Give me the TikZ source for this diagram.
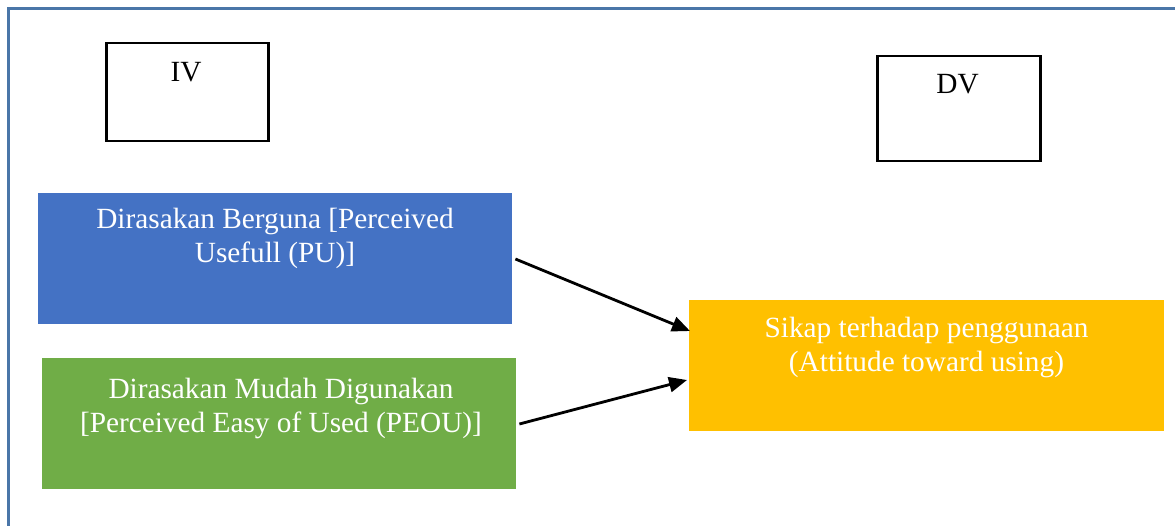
\documentclass[tikz,border=0pt]{standalone}
\usepackage{fontspec}
\setmainfont{Liberation Serif}
\usetikzlibrary{arrows.meta,calc}
\definecolor{framec}{HTML}{4A76A8}
\definecolor{pucol}{HTML}{4472C4}
\definecolor{peoucol}{HTML}{70AD47}
\definecolor{attcol}{HTML}{FFC000}
\tikzset{
  labelbox/.style={draw=black, line width=2.5pt, anchor=north west, inner sep=0pt},
  varbox/.style={anchor=north west, inner sep=0pt, minimum width=475pt, minimum height=131pt},
  boxtext/.style={anchor=base, align=center, inner sep=0pt,
    font=\fontsize{29.3}{34}\selectfont},
  whitetext/.style={boxtext, text=white},
  arr/.style={line width=2.8pt, -{Triangle[length=18pt,width=15pt]}}
}
\begin{document}
\begin{tikzpicture}[x=1pt,y=-1pt]
  \useasboundingbox (0,0) rectangle (1175,526);
  % page frame (top and left edges)
  \draw[framec, line width=3pt] (8.5,526) -- (8.5,8.5) -- (1175,8.5);

  % variable-type labels
  \node[labelbox, minimum width=162pt, minimum height=98pt] (iv) at (105,42) {};
  \node[boxtext] (ivtext) at (186,82) {IV};
  \node[labelbox, minimum width=163pt, minimum height=105pt] (dv) at (876,55) {};
  \node[boxtext] (dvtext) at (957.5,94) {DV};

  % constructs (base anchor sits on the last text line)
  \node[varbox, fill=pucol, minimum width=474pt] (pu) at (38,193) {};
  \node[whitetext] (putext) at (275,263) {Dirasakan Berguna [Perceived\\Usefull (PU)]};
  \node[varbox, fill=peoucol, minimum width=474pt] (peou) at (42,358) {};
  \node[whitetext] (peoutext) at (281,432) {Dirasakan Mudah Digunakan\\{}[Perceived Easy of Used (PEOU)]};
  \node[varbox, fill=attcol] (att) at (689,300) {};
  \node[whitetext] (atttext) at (926.5,372) {Sikap terhadap penggunaan\\(Attitude toward using)};

  % influence arrows
  \coordinate (puout) at ($(pu.north east)+(3,66)$);
  \coordinate (attin1) at ($(att.north west)+(1,31)$);
  \coordinate (peouout) at ($(peou.north east)+(3,66)$);
  \coordinate (attin2) at ($(att.north west)+(-2,80)$);
  \draw[arr] (puout) -- (attin1);
  \draw[arr] (peouout) -- (attin2);
\end{tikzpicture}
\end{document}
